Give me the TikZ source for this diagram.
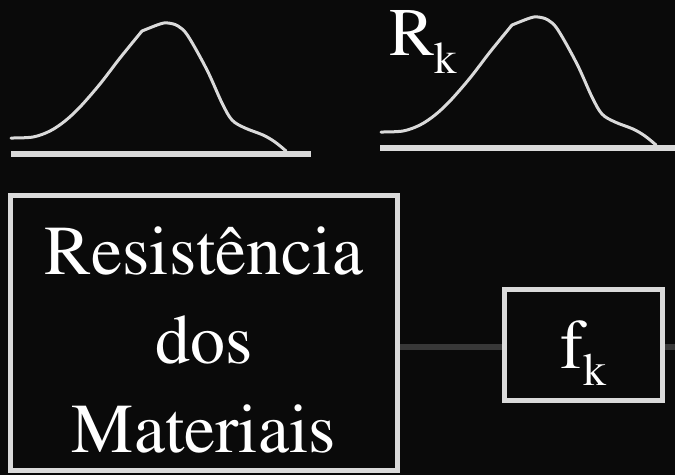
\documentclass[tikz,border=0pt]{standalone}
\usepackage[T1]{fontenc}
\usepackage{times}
\definecolor{bg}{HTML}{0A0A0A}
\definecolor{edge}{HTML}{DADADA}
\definecolor{conncol}{HTML}{383838}
\begin{document}
\begin{tikzpicture}[x=1pt,y=-1pt,
  curve/.style={draw=edge,line width=3pt,line cap=round,line join=round},
  axisbar/.style={draw=edge,line width=5.5pt},
  boxnode/.style={draw=edge,line width=5pt,rectangle,inner sep=0pt},
  conn/.style={draw=conncol,line width=6pt},
  bigtext/.style={text=white,inner sep=0pt,font=\rmfamily\fontsize{70}{89}\selectfont}]
\fill[bg] (0,0) rectangle (675,475);
\useasboundingbox (0,0) rectangle (675,475);
% left distribution
\coordinate (la) at (11,154);
\coordinate (lb) at (311,154);
\draw[axisbar] (la) -- (lb);
\draw[curve] plot[smooth,tension=0.55] coordinates {(11,138) (33,137) (50,131) (65,121) (80,107) (100,84) (120,58) (142,31)};
\draw[curve] plot[smooth,tension=0.55] coordinates {(142,31) (160,24) (168,23) (178,26) (188,36) (207,70) (222,103) (232,120) (245,128) (263,135) (275,142) (286,151)};
% right distribution
\coordinate (ra) at (380,148);
\coordinate (rb) at (675,148);
\draw[axisbar] (ra) -- (rb);
\begin{scope}[shift={(370,-6)}]
\draw[curve] plot[smooth,tension=0.55] coordinates {(11,138) (33,137) (50,131) (65,121) (80,107) (100,84) (120,58) (142,31)};
\draw[curve] plot[smooth,tension=0.55] coordinates {(142,31) (160,24) (168,23) (178,26) (188,36) (207,70) (222,103) (232,120) (245,128) (263,135) (275,142) (286,151)};
\end{scope}
\node[bigtext,font=\rmfamily\fontsize{68}{80}\selectfont,anchor=base west] (rk) at (389,55) {R\raisebox{-18pt}{\fontsize{45}{50}\selectfont k}};
% boxes
\node[boxnode,minimum width=387pt,minimum height=275pt] (rm) at (204,333) {};
\node[bigtext,align=center] (rmtext) at (204,340) {Resist\^encia\\dos\\Materiais};
\node[boxnode,minimum width=158pt,minimum height=110.5pt,text=white,font=\rmfamily\fontsize{70}{80}\selectfont,text height=46pt,text depth=0pt] (fk) at (583.5,345) {f\raisebox{-17pt}{\fontsize{46}{50}\selectfont k}};
\coordinate (out) at (675,347);
\draw[conn] (rm.east |- 0,347) -- (fk.west |- 0,347);
\draw[conn] (fk.east |- 0,347) -- (out);
\end{tikzpicture}
\end{document}
